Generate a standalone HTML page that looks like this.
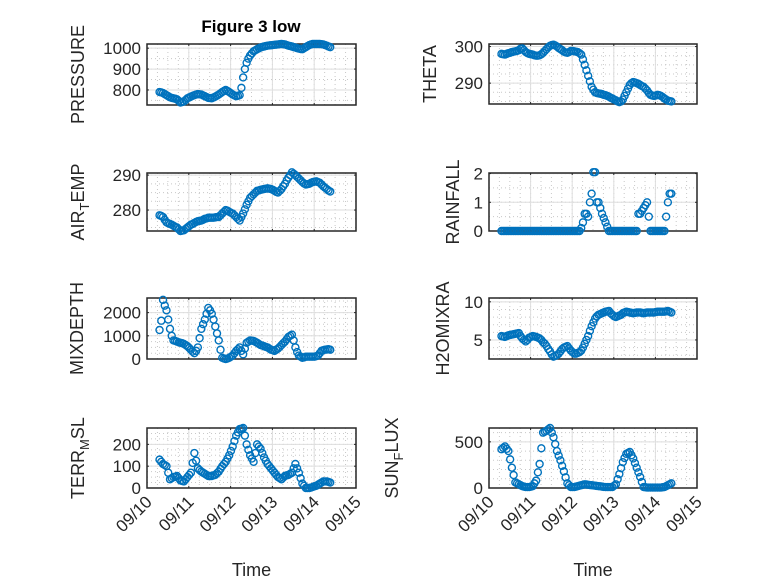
<!DOCTYPE html>
<html><head><meta charset="utf-8"><style>
body{margin:0;background:#fff}
svg{display:block;font-family:"Liberation Sans",sans-serif}
</style></head><body>
<svg id="fig" width="778" height="583" viewBox="0 0 778 583">
<rect width="778" height="583" fill="#fff"/>
<text x="251" y="32" text-anchor="middle" font-weight="bold" font-size="17" fill="#000">Figure 3 low</text>
</svg>
<script>
const tStart = 10.30, tStep = 1/24;
const xTicks = [10,11,12,13,14,15];
const xTickLabels = ["09/10","09/11","09/12","09/13","09/14","09/15"];
const pressure = [790,788,785,780,775,770,765,762,760,758,755,748,740,742,745,752,760,764,768,772,775,778,780,779,778,774,770,766,762,761,760,764,768,773,778,784,790,795,800,795,790,784,778,774,770,772,775,810,860,900,930,950,965,975,985,990,995,999,1003,1006,1008,1010,1012,1013,1014,1015,1016,1017,1018,1019,1020,1019,1018,1015,1012,1010,1008,1005,1003,1000,998,996,995,1000,1005,1010,1015,1018,1020,1020,1020,1020,1020,1019,1018,1015,1012,1008,1005];
const theta = [298,297.9,297.8,298,298.2,298.3,298.5,298.6,298.7,298.8,299,299.4,299.5,299,298.5,298.2,298,297.9,297.8,297.6,297.5,297.5,297.6,297.9,298.3,298.8,299.3,299.8,300.2,300.4,300.5,300.3,300,299.6,299.3,299,298.6,298.4,298.3,298.5,298.8,298.8,298.7,298.6,298.5,298.2,297.8,296.5,295,293.5,292,290.5,289,288.2,287.5,287.3,287.2,287.1,287,286.8,286.7,286.5,286.3,286,285.8,285.5,285.3,285,284.8,285,285.5,286.5,287.5,288.5,289.5,290,290.3,290.2,290,289.8,289.5,289.2,289,288.5,288,287.3,286.8,286.6,286.5,286.6,286.8,286.7,286.5,286.2,285.8,285.5,285.2,285.1,285];
const airTemp = [278.5,278.3,278,277.2,276.5,276.2,276,275.8,275.5,275.2,275,274.5,274,274.1,274.2,274.6,275,275.4,275.8,276,276.3,276.6,276.8,276.9,277,277.2,277.5,277.6,277.8,277.8,277.8,277.8,277.9,278,278,278.5,279,279.5,280,279.8,279.5,279.2,279,278.5,278,277.5,277,278,279,280.2,281.5,282.5,283.5,284,284.5,285,285.5,285.6,285.8,285.9,286,286.1,286.2,286.1,286,285.8,285.5,285.2,285,285.5,286,286.8,287.5,288.5,289.3,290,290.8,290.4,290,289.5,289,288.5,288,287.6,287.3,287.4,287.5,287.8,288,288.1,288.2,288,287.8,287.3,286.8,286.4,286,285.6,285.3];
const rainfall = [0,0,0,0,0,0,0,0,0,0,0,0,0,0,0,0,0,0,0,0,0,0,0,0,0,0,0,0,0,0,0,0,0,0,0,0,0,0,0,0,0,0,0,0,0,0,0.1,0.3,0.6,0.6,0.5,1.0,1.3,2.05,2.05,1.0,1.0,0.8,0.6,0.45,0.3,0.15,0,0,0,0,0,0,0,0,0,0,0,0,0,0,0,0,0,0.6,0.6,0.7,0.8,0.9,1.0,0.5,0,0,0,0,0,0,0,0,0,0.5,1.0,1.3,1.3];
const mixDepth = [1250,1650,2550,2300,2100,1700,1300,1000,800,780,750,720,700,680,650,600,550,480,400,320,250,350,500,900,1300,1500,1700,1950,2200,2100,1950,1700,1400,1100,800,400,50,20,0,20,50,100,150,250,350,420,500,350,200,450,700,750,800,790,780,740,700,650,600,580,550,520,500,450,400,380,350,400,450,520,600,680,750,850,950,1000,1050,800,500,300,150,100,50,70,100,100,100,100,100,100,120,150,250,350,380,400,410,420,400];
const h2oMix = [5.5,5.45,5.4,5.5,5.6,5.65,5.7,5.75,5.8,5.85,5.9,5.5,5.2,5.0,4.8,5.0,5.3,5.4,5.5,5.45,5.4,5.3,5.2,5.0,4.7,4.5,4.2,3.8,3.5,3.1,2.8,2.9,3.0,3.2,3.5,3.8,4.0,4.1,4.2,3.9,3.6,3.4,3.2,3.2,3.3,3.4,3.6,4.0,4.5,5.0,5.5,6.2,6.8,7.3,7.8,8.1,8.3,8.4,8.5,8.6,8.7,8.75,8.8,8.5,8.3,8.1,8.0,8.1,8.2,8.3,8.5,8.6,8.7,8.65,8.6,8.55,8.5,8.55,8.6,8.6,8.6,8.55,8.5,8.55,8.6,8.6,8.6,8.6,8.6,8.65,8.7,8.7,8.7,8.7,8.7,8.75,8.8,8.7,8.6];
const terrMsl = [130,120,110,105,100,70,40,45,50,52,55,45,35,32,30,40,50,60,70,115,160,125,90,82,75,70,65,60,55,55,55,58,60,68,75,88,100,110,120,135,150,170,190,215,240,255,270,272,275,240,200,175,150,135,120,160,200,190,180,160,140,125,110,100,90,80,70,60,50,45,40,48,55,58,60,65,70,90,110,90,70,45,20,10,0,0,0,2,5,8,10,15,20,25,30,30,30,28,25];
const sunFlux = [420,435,450,425,400,310,220,140,60,50,40,30,20,15,10,10,10,15,20,50,80,170,260,430,600,610,620,635,650,600,550,475,400,350,300,240,180,115,50,30,10,10,10,15,20,25,30,35,40,38,35,32,30,28,25,22,20,18,15,12,10,10,10,10,10,25,40,95,150,215,280,325,370,380,390,355,320,270,220,170,120,65,10,8,5,5,5,5,5,5,5,5,5,8,10,20,30,40,50];

const NS="http://www.w3.org/2000/svg";
const svg=document.getElementById('fig');
function mk(tag,attrs,parent){const e=document.createElementNS(NS,tag);for(const k in attrs)e.setAttribute(k,attrs[k]);(parent||svg).appendChild(e);return e;}

const panels=[
 {name:'pressure',data:pressure,x0:147,x1:356,y0:44,y1:105,ymin:728,ymax:1020,ticks:[800,900,1000],minor:50,label:['PRESSURE'],lx:78,bottom:false},
 {name:'theta',data:theta,x0:489,x1:697,y0:44,y1:104,ymin:284.3,ymax:300.7,ticks:[290,300],minor:2.5,label:['THETA'],lx:430,bottom:false},
 {name:'air-temp',data:airTemp,x0:147,x1:356,y0:173,y1:231,ymin:274,ymax:290.6,ticks:[280,290],minor:2.5,label:['AIR','T','EMP'],lx:78,bottom:false},
 {name:'rainfall',data:rainfall,x0:489,x1:697,y0:173,y1:231,ymin:0,ymax:2.02,ticks:[0,1,2],minor:0.5,label:['RAINFALL'],lx:453,bottom:false},
 {name:'mixdepth',data:mixDepth,x0:147,x1:356,y0:298,y1:359,ymin:0,ymax:2630,ticks:[0,1000,2000],minor:250,label:['MIXDEPTH'],lx:77,bottom:false},
 {name:'h2omixra',data:h2oMix,x0:489,x1:697,y0:298,y1:359,ymin:2.5,ymax:10.5,ticks:[5,10],minor:1,label:['H2OMIXRA'],lx:443,bottom:false},
 {name:'terr-msl',data:terrMsl,x0:147,x1:356,y0:428,y1:488,ymin:0,ymax:275,ticks:[0,100,200],minor:25,label:['TERR','M','SL'],lx:78,bottom:true},
 {name:'sun-flux',data:sunFlux,x0:489,x1:697,y0:428,y1:488,ymin:0,ymax:650,ticks:[0,500],minor:100,label:['SUN','F','LUX'],lx:392,bottom:true}
];

panels.forEach(p=>{
  const g=mk('g',{});
  
  
  const xs=d=>p.x0+(d-10)/5*(p.x1-p.x0);
  const ys=v=>p.y1-(v-p.ymin)/(p.ymax-p.ymin)*(p.y1-p.y0);
  for(let d=10;d<=15.001;d+=0.25){const x=xs(d);mk('line',{x1:x,x2:x,y1:p.y0,y2:p.y1,stroke:'#c8c8c8','stroke-width':1,'stroke-dasharray':'1,3'},g);}
  for(let v=Math.ceil(p.ymin/p.minor)*p.minor;v<=p.ymax;v+=p.minor){const y=ys(v);mk('line',{x1:p.x0,x2:p.x1,y1:y,y2:y,stroke:'#c8c8c8','stroke-width':1,'stroke-dasharray':'1,3'},g);}
  xTicks.forEach(d=>{const x=xs(d);mk('line',{x1:x,x2:x,y1:p.y0,y2:p.y1,stroke:'#dedede','stroke-width':1},g);});
  p.ticks.forEach(v=>{const y=ys(v);mk('line',{x1:p.x0,x2:p.x1,y1:y,y2:y,stroke:'#dedede','stroke-width':1},g);});
  xTicks.forEach(d=>{const x=xs(d);mk('line',{x1:x,x2:x,y1:p.y1,y2:p.y1-2,stroke:'#262626'},g);mk('line',{x1:x,x2:x,y1:p.y0,y2:p.y0+2,stroke:'#262626'},g);});
  p.ticks.forEach(v=>{const y=ys(v);mk('line',{x1:p.x0,x2:p.x0+2,y1:y,y2:y,stroke:'#262626'},g);mk('line',{x1:p.x1,x2:p.x1-2,y1:y,y2:y,stroke:'#262626'},g);
    const t=mk('text',{x:p.x0-6,y:y+6,'text-anchor':'end','font-size':17,fill:'#262626'},g);t.textContent=String(v);
    
    });
  mk('rect',{x:p.x0,y:p.y0,width:p.x1-p.x0,height:p.y1-p.y0,fill:'none',stroke:'#262626','stroke-width':1.5},g);
  p.data.forEach((v,i)=>{
    const c=mk('circle',{cx:xs(tStart+i*tStep),cy:ys(v),r:3.5,fill:'none',stroke:'#0072BD','stroke-width':1.4},g);
    
    
  });
  const cy=(p.y0+p.y1)/2;
  const lab=mk('text',{x:p.lx,y:cy,'text-anchor':'middle','font-size':18,fill:'#262626',transform:`rotate(-90 ${p.lx} ${cy})`,dy:6},g);
  
  
  if(p.label.length===1){lab.textContent=p.label[0];}
  else{
    const a=mk('tspan',{},lab);a.textContent=p.label[0];
    const b=mk('tspan',{'font-size':13,dy:5},lab);b.textContent=p.label[1];
    const c=mk('tspan',{dy:-5},lab);c.textContent=p.label[2];
  }
  if(p.bottom){
    xTicks.forEach((d,k)=>{const x=xs(d)+6,y=p.y1+15;
      const t=mk('text',{x:x,y:y,'text-anchor':'end','font-size':17,fill:'#262626',transform:`rotate(-45 ${x} ${y})`},g);
      t.textContent=xTickLabels[k];
      
      });
    const tl=mk('text',{x:(p.x0+p.x1)/2,y:576,'text-anchor':'middle','font-size':18,fill:'#262626'},g);
    tl.textContent='Time';
    
    
  }
});
</script>
</body></html>
